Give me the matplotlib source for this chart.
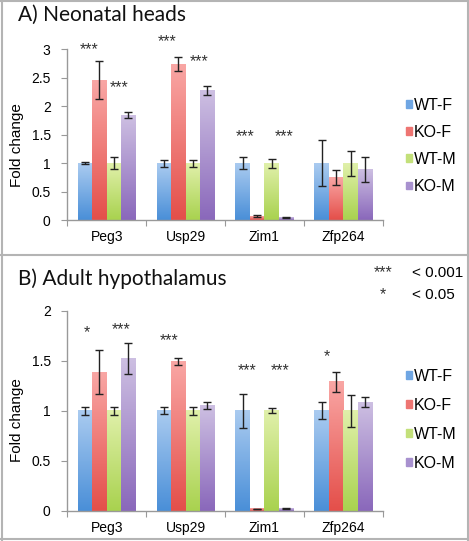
import numpy as np
import matplotlib
matplotlib.use("Agg")
import matplotlib.pyplot as plt
from matplotlib.colors import LinearSegmentedColormap
from matplotlib.patches import Rectangle
from matplotlib.lines import Line2D

# ---------------- data ----------------
genes = ["Peg3", "Usp29", "Zim1", "Zfp264"]
groups = ["WT-F", "KO-F", "WT-M", "KO-M"]

# Panel A: Neonatal heads
neo_wtf = [1.00, 1.00, 1.00, 1.00]
neo_kof = [2.46, 2.74, 0.07, 0.75]
neo_wtm = [1.00, 1.00, 1.00, 1.00]
neo_kom = [1.845, 2.27, 0.05, 0.89]
neo_wtf_err = [0.02, 0.06, 0.10, 0.41]
neo_kof_err = [0.33, 0.12, 0.01, 0.13]
neo_wtm_err = [0.11, 0.06, 0.08, 0.22]
neo_kom_err = [0.05, 0.08, 0.01, 0.22]

# Panel B: Adult hypothalamus
hyp_wtf = [1.00, 1.00, 1.00, 1.00]
hyp_kof = [1.385, 1.497, 0.02, 1.29]
hyp_wtm = [1.00, 1.00, 1.00, 1.00]
hyp_kom = [1.525, 1.055, 0.025, 1.088]
hyp_wtf_err = [0.04, 0.035, 0.17, 0.085]
hyp_kof_err = [0.22, 0.035, 0.004, 0.10]
hyp_wtm_err = [0.04, 0.04, 0.025, 0.16]
hyp_kom_err = [0.155, 0.035, 0.004, 0.047]

# significance labels: (gene index, x offset in category units, y value, text)
neo_stars = [(0, -0.22, 3.00, "***"), (0, 0.16, 2.32, "***"),
             (1, -0.24, 3.13, "***"), (1, 0.17, 2.78, "***"),
             (2, -0.25, 1.46, "***"), (2, 0.25, 1.46, "***")]
hyp_stars = [(0, -0.25, 1.78, "*"), (0, 0.18, 1.81, "***"),
             (1, -0.21, 1.70, "***"), (2, -0.22, 1.40, "***"),
             (2, 0.20, 1.40, "***"), (3, -0.21, 1.54, "*")]

sig_keys = ["***", "*"]
sig_vals = ["< 0.001", "< 0.05"]

# ---------------- style ----------------
grad = {
    "WT-F": ("#4a8fd8", "#aacbf0"),
    "KO-F": ("#e44f4a", "#f9a6a4"),
    "WT-M": ("#a9d24f", "#e0f0aa"),
    "KO-M": ("#8a68bb", "#cdbfe2"),
}
legend_col = {"WT-F": "#6fa6e3", "KO-F": "#ee7572", "WT-M": "#c3e07a", "KO-M": "#a891cf"}

tick_font = "Liberation Sans"
title_font = "Lato"

W, H = 469, 541
fig = plt.figure(figsize=(W / 100, H / 100), dpi=100)

# frame lines
border = "#b4b4b4"
fig.add_artist(Line2D([2 / W, 2 / W], [0, 1], transform=fig.transFigure, color=border, lw=1.5))
fig.add_artist(Line2D([468 / W, 468 / W], [0, 1], transform=fig.transFigure, color=border, lw=1.5))
fig.add_artist(Line2D([0, 1], [1 - 0.5 / H, 1 - 0.5 / H], transform=fig.transFigure, color=border, lw=1.5))
fig.add_artist(Line2D([0, 1], [1 - 539 / H, 1 - 539 / H], transform=fig.transFigure, color=border, lw=1.5))
fig.add_artist(Line2D([0, 1], [1 - 255 / H, 1 - 255 / H], transform=fig.transFigure, color=border, lw=1.5))

bw = 0.184
offsets = [-1.5 * bw, -0.5 * bw, 0.5 * bw, 1.5 * bw]


def draw_panel(ax, series, errs, ymax, ystep, stars):
    x = np.arange(len(genes))
    for gi, (g, vals, err) in enumerate(zip(groups, series, errs)):
        cmap = LinearSegmentedColormap.from_list(g, [grad[g][0], grad[g][1]])
        bars = ax.bar(x + offsets[gi], vals, width=bw, color="none", edgecolor="none", zorder=2)
        for b in bars:
            bx, by = b.get_x(), b.get_y()
            bwid, bh = b.get_width(), b.get_height()
            gimg = np.linspace(0, 1, 64).reshape(-1, 1)
            ax.imshow(gimg, extent=[bx, bx + bwid, by, by + bh], origin="lower",
                      aspect="auto", cmap=cmap, zorder=2, interpolation="bilinear")
        ax.errorbar(x + offsets[gi], vals, yerr=err, fmt="none", ecolor="#222222",
                    elinewidth=1.0, capsize=3.2, capthick=1.0, zorder=3)
    ax.set_xlim(-0.5, len(genes) - 0.5)
    ax.set_ylim(0, ymax)
    ax.set_yticks(np.arange(0, ymax + 1e-9, ystep))
    ax.set_yticklabels([f"{v:g}" for v in np.arange(0, ymax + 1e-9, ystep)])
    ax.set_xticks(np.arange(-0.5, len(genes), 1.0))
    ax.set_xticklabels([])
    ax.set_xticks(x, minor=True)
    ax.set_xticklabels(genes, minor=True)
    ax.tick_params(axis="x", which="minor", length=0, pad=7, labelsize=10)
    ax.tick_params(axis="x", which="major", length=4, color="#999999")
    ax.tick_params(axis="y", length=4, color="#999999", pad=8, labelsize=10)
    for lab in ax.get_xticklabels(minor=True) + ax.get_yticklabels():
        lab.set_fontfamily(tick_font)
    for s in ["top", "right"]:
        ax.spines[s].set_visible(False)
    for s in ["left", "bottom"]:
        ax.spines[s].set_color("#999999")
        ax.spines[s].set_linewidth(1.0)
    for gi_, off, yv, txt in stars:
        ax.text(gi_ + off, yv, txt, ha="center", va="center", fontsize=11.5,
                family=tick_font, color="#333333")
    handles = [Rectangle((0, 0), 1, 1, color=legend_col[g]) for g in groups]
    return handles


legend_kw = dict(loc="center left", bbox_transform=None, frameon=False,
                 handlelength=0.38, handleheight=0.38, handletextpad=0.12,
                 borderpad=0, borderaxespad=0,
                 prop={"family": tick_font, "size": 11.5})

# Panel A
axA = fig.add_axes([67.3 / W, 1 - 220 / H, (382.7 - 67.3) / W, (220 - 49.3) / H])
hA = draw_panel(axA, [neo_wtf, neo_kof, neo_wtm, neo_kom],
                [neo_wtf_err, neo_kof_err, neo_wtm_err, neo_kom_err], 3, 0.5, neo_stars)
kwA = dict(legend_kw, bbox_transform=fig.transFigure, labelspacing=0.76)
axA.legend(hA, groups, bbox_to_anchor=(406 / W, 1 - 146 / H), **kwA)

# Panel B
axB = fig.add_axes([67.3 / W, 1 - 511 / H, (382.7 - 67.3) / W, (511 - 310.7) / H])
hB = draw_panel(axB, [hyp_wtf, hyp_kof, hyp_wtm, hyp_kom],
                [hyp_wtf_err, hyp_kof_err, hyp_wtm_err, hyp_kom_err], 2, 0.5, hyp_stars)
kwB = dict(legend_kw, bbox_transform=fig.transFigure, labelspacing=0.88)
axB.legend(hB, groups, bbox_to_anchor=(406 / W, 1 - 420 / H), **kwB)

# titles
fig.text(18 / W, 1 - 21 / H, "A) Neonatal heads", fontsize=15, family=title_font,
         ha="left", va="baseline", color="#111111")
fig.text(18 / W, 1 - 285 / H, "B) Adult hypothalamus", fontsize=15, family=title_font,
         ha="left", va="baseline", color="#111111")

# y labels
fig.text(17 / W, 1 - 145 / H, "Fold change", rotation=90, ha="center", va="center",
         fontsize=11, family=tick_font)
fig.text(17 / W, 1 - 420 / H, "Fold change", rotation=90, ha="center", va="center",
         fontsize=11, family=tick_font)

# significance key
for i, (k, v) in enumerate(zip(sig_keys, sig_vals)):
    yy = 1 - (273 + 22 * i) / H
    fig.text(383 / W, yy, k, ha="center", va="center", fontsize=11.5, family=tick_font, color="#333333")
    fig.text(412 / W, yy, v, ha="left", va="center", fontsize=11, family=tick_font)

fig.savefig("out.png", dpi=100)
